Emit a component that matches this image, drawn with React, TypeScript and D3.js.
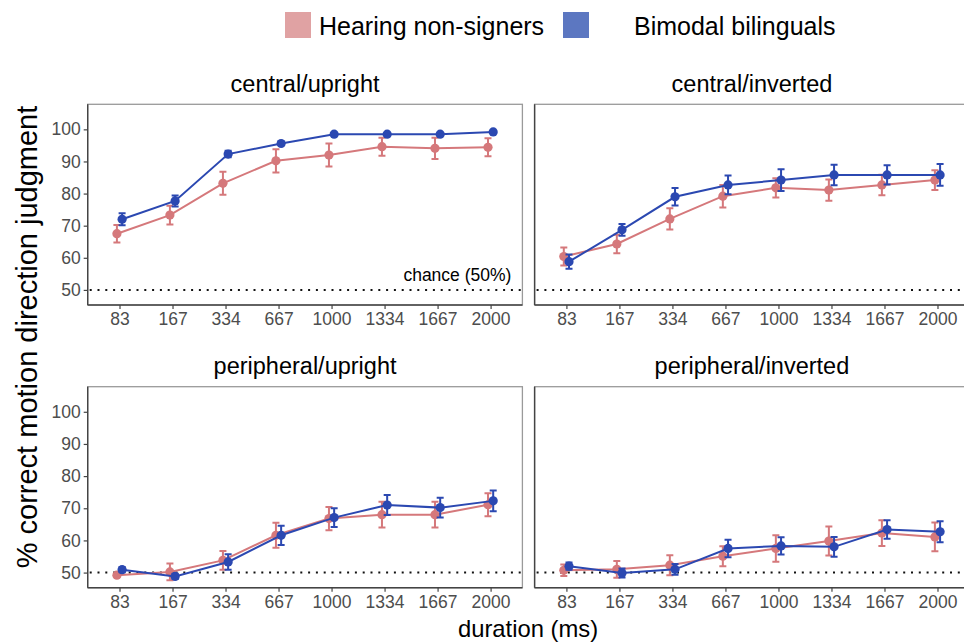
import React, { useRef, useEffect } from 'react';
import * as d3 from 'd3';

const durations = ['83', '167', '334', '667', '1000', '1334', '1667', '2000'];
const yTicks = [50, 60, 70, 80, 90, 100];
const groups = ['Hearing non-signers', 'Bimodal bilinguals'];
const panelTitles = ['central/upright', 'central/inverted', 'peripheral/upright', 'peripheral/inverted'];

// mean % correct and error (+/-) per duration
const cuHearing = [67.5, 73.3, 83.2, 90.2, 92.0, 94.6, 94.1, 94.4];
const cuHearingErr = [2.7, 2.9, 3.6, 3.6, 3.6, 2.8, 3.3, 2.8];
const cuBimodal = [72.0, 77.7, 92.3, 95.6, 98.5, 98.5, 98.5, 99.2];
const cuBimodalErr = [1.9, 1.7, 1.0, 0.5, 0.3, 0.3, 0.3, 0.3];

const ciHearing = [60.4, 64.3, 72.1, 79.2, 81.8, 81.1, 82.7, 84.2];
const ciHearingErr = [2.8, 2.9, 3.3, 3.5, 3.0, 3.3, 3.2, 3.1];
const ciBimodal = [58.8, 68.7, 79.0, 82.7, 84.2, 85.8, 85.8, 85.8];
const ciBimodalErr = [2.2, 1.8, 2.7, 2.9, 3.4, 3.2, 3.0, 3.4];

const puHearing = [49.2, 50.2, 53.8, 61.6, 66.8, 68.0, 68.0, 71.1];
const puHearingErr = [0.6, 2.6, 2.9, 3.9, 3.6, 4.0, 4.0, 3.6];
const puBimodal = [50.9, 48.8, 53.3, 61.6, 67.1, 71.0, 70.2, 72.3];
const puBimodalErr = [0.8, 0.8, 2.4, 3.0, 2.9, 3.1, 3.1, 3.2];

const piHearing = [50.7, 51.0, 52.3, 55.1, 57.5, 59.8, 62.3, 61.1];
const piHearingErr = [1.8, 2.6, 3.1, 3.1, 4.1, 4.5, 4.0, 4.5];
const piBimodal = [52.0, 49.9, 51.0, 57.5, 58.3, 58.0, 63.4, 62.7];
const piBimodalErr = [1.1, 1.4, 1.7, 2.7, 2.7, 3.1, 2.9, 3.3];

const panelData = [
  [cuHearing, cuHearingErr, cuBimodal, cuBimodalErr],
  [ciHearing, ciHearingErr, ciBimodal, ciBimodalErr],
  [puHearing, puHearingErr, puBimodal, puBimodalErr],
  [piHearing, piHearingErr, piBimodal, piBimodalErr],
];

const lineColors = ['#d5787b', '#2b48b1'];
const keyColors = ['#e0a2a3', '#5c77c1'];
const FONT = '"Liberation Sans", Arial, Helvetica, sans-serif';

const App = () => {
  const svgRef = useRef<SVGSVGElement>(null);

  useEffect(() => {
    const svg = d3.select(svgRef.current);
    svg.selectAll('*').remove();

    const cols = [[87.7, 522.4], [534.6, 969.3]];
    const rows = [[104.3, 305], [386.7, 587.7]];

    // legend
    const legendX = [285, 563];
    const legendTextX = [319, 634];
    groups.forEach((g, i) => {
      svg.append('rect')
        .attr('x', legendX[i]).attr('y', 12)
        .attr('width', 26).attr('height', 26)
        .attr('fill', keyColors[i]);
      svg.append('text')
        .attr('x', legendTextX[i]).attr('y', 34.5)
        .attr('font-size', 25).attr('font-family', FONT)
        .attr('fill', '#000')
        .text(g);
    });

    panelData.forEach((pd, p) => {
      const [x0, x1] = cols[p % 2];
      const [y0, y1] = rows[Math.floor(p / 2)];

      const xScale = d3.scalePoint<string>()
        .domain(durations)
        .range([x0, x1])
        .padding(0.6);
      const yScale = d3.scaleLinear()
        .domain([45.3, 107.8])
        .range([y1, y0]);

      const g = svg.append('g');

      // strip title
      g.append('text')
        .attr('x', (x0 + x1) / 2)
        .attr('y', y0 - 12.5)
        .attr('text-anchor', 'middle')
        .attr('font-size', 23.5).attr('font-family', FONT)
        .text(panelTitles[p]);

      // panel border
      g.append('rect')
        .attr('x', x0).attr('y', y0)
        .attr('width', x1 - x0).attr('height', y1 - y0)
        .attr('fill', 'white')
        .attr('stroke', '#9a9a9a').attr('stroke-width', 1.3);

      // axes
      const xAxis = d3.axisBottom(xScale).tickSize(4).tickPadding(4);
      const gx = g.append('g')
        .attr('transform', `translate(0, ${y1})`)
        .call(xAxis);
      gx.select('.domain').attr('stroke', '#444').attr('stroke-width', 1.4)
        .attr('d', `M${x0},0H${x1}`);
      gx.selectAll('.tick line').attr('stroke', '#444').attr('stroke-width', 1.2);
      gx.selectAll('.tick text')
        .attr('font-size', 17.5).attr('font-family', FONT).attr('fill', '#4d4d4d');

      if (p % 2 === 0) {
        const yAxis = d3.axisLeft(yScale).tickValues(yTicks).tickSize(4).tickPadding(3);
        const gy = g.append('g')
          .attr('transform', `translate(${x0}, 0)`)
          .call(yAxis);
        gy.select('.domain').attr('stroke', '#444').attr('stroke-width', 1.4)
          .attr('d', `M0,${y0}V${y1}`);
        gy.selectAll('.tick line').attr('stroke', '#444').attr('stroke-width', 1.2);
        gy.selectAll('.tick text')
          .attr('font-size', 17.5).attr('font-family', FONT).attr('fill', '#4d4d4d');
      } else {
        g.append('line')
          .attr('x1', x0).attr('x2', x0)
          .attr('y1', y0).attr('y2', y1)
          .attr('stroke', '#444').attr('stroke-width', 1.4);
      }

      // chance line
      g.append('line')
        .attr('x1', x0 + 2).attr('x2', x1)
        .attr('y1', yScale(50)).attr('y2', yScale(50))
        .attr('stroke', '#111').attr('stroke-width', 2)
        .attr('stroke-dasharray', '2,5.8');

      if (p === 0) {
        g.append('text')
          .attr('x', x1 - 11).attr('y', yScale(50) - 8.5)
          .attr('text-anchor', 'end')
          .attr('font-size', 17.5).attr('font-family', FONT)
          .text('chance (50%)');
      }

      // series: hearing then bimodal
      [0, 1].forEach(s => {
        const means = pd[s * 2];
        const errs = pd[s * 2 + 1];
        const dodge = s === 0 ? -2.6 : 2.6;
        const color = lineColors[s];
        const px = (i: number) => (xScale(durations[i]) as number) + dodge;

        const line = d3.line<number>()
          .x((d, i) => px(i))
          .y(d => yScale(d));

        g.append('g').selectAll('path')
          .data(means)
          .join('path')
          .attr('d', (d, i) => {
            const x = px(i);
            const ya = yScale(d + errs[i]);
            const yb = yScale(d - errs[i]);
            return `M${x - 3.5},${ya}H${x + 3.5}M${x},${ya}V${yb}M${x - 3.5},${yb}H${x + 3.5}`;
          })
          .attr('fill', 'none')
          .attr('stroke', color)
          .attr('stroke-width', 2);

        g.append('path')
          .datum(means)
          .attr('d', line)
          .attr('fill', 'none')
          .attr('stroke', color)
          .attr('stroke-width', 2);

        g.append('g').selectAll('circle')
          .data(means)
          .join('circle')
          .attr('cx', (d, i) => px(i))
          .attr('cy', d => yScale(d))
          .attr('r', 4.6)
          .attr('fill', color);
      });
    });

    // axis titles
    svg.append('text')
      .attr('transform', 'translate(37, 337) rotate(-90)')
      .attr('text-anchor', 'middle')
      .attr('font-size', 29).attr('font-family', FONT)
      .text('% correct motion direction judgment');

    svg.append('text')
      .attr('x', 528).attr('y', 637)
      .attr('text-anchor', 'middle')
      .attr('font-size', 23.8).attr('font-family', FONT)
      .text('duration (ms)');
  }, []);

  return (
    <svg
      ref={svgRef}
      width={964}
      height={643}
      style={{ position: 'absolute', left: 0, top: 0, background: 'white' }}
    />
  );
};

export default App;
